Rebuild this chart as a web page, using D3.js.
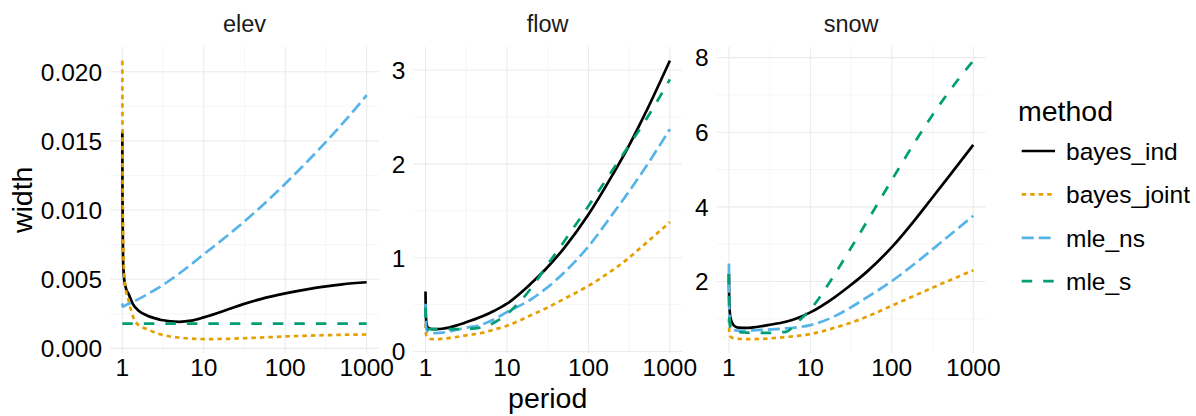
<!DOCTYPE html>
<html>
<head>
<meta charset="utf-8">
<script src="https://cdn.jsdelivr.net/npm/d3@7"></script>
<style>
  html, body { margin: 0; padding: 0; background: #fff; }
  svg { display: block; font-family: "Liberation Sans", Arial, sans-serif; }
  .grid-major { stroke: #ebebeb; stroke-width: 1.1; }
  .grid-minor { stroke: #f2f2f2; stroke-width: 0.7; }
  .tick-label { font-size: 24.5px; fill: #000; }
  .strip-label { font-size: 23.5px; fill: #1a1a1a; }
  .axis-title { font-size: 28.5px; fill: #000; }
</style>
</head>
<body>
<div id="chart"></div>
<script>
// return periods shared by every series
const periods = [1, 1.005, 1.015, 1.03, 1.06, 1.1, 1.2, 1.35, 1.6, 2, 2.5, 3, 5, 7, 10, 20, 30, 50, 100, 200, 300, 500, 1000];

const panels = ["elev", "flow", "snow"];
const methods = ["bayes_ind", "bayes_joint", "mle_ns", "mle_s"];

const xTicks = [1, 10, 100, 1000];
const elevTicks = [0, 0.005, 0.01, 0.015, 0.02];
const flowTicks = [0, 1, 2, 3];
const snowTicks = [2, 4, 6, 8];

// elev
const elevBayesInd = [0.0157, 0.0110, 0.0078, 0.0058, 0.0049, 0.0044, 0.0039, 0.0032, 0.0027, 0.00238, 0.00218, 0.00205, 0.00192, 0.00200, 0.00224, 0.00282, 0.00318, 0.00356, 0.00397, 0.00430, 0.00446, 0.00463, 0.00478];
const elevBayesJoint = [0.0208, 0.0150, 0.0100, 0.0070, 0.0052, 0.0043, 0.0034, 0.0023, 0.00165, 0.0014, 0.00115, 0.00100, 0.00078, 0.00071, 0.00067, 0.00069, 0.00073, 0.00078, 0.00086, 0.00092, 0.00095, 0.00098, 0.00100];
const elevMleNs = [0.00325, 0.00310, 0.00302, 0.00302, 0.00306, 0.00312, 0.00322, 0.00336, 0.00358, 0.00389, 0.00422, 0.00450, 0.00541, 0.00607, 0.0068, 0.0082, 0.00907, 0.01022, 0.0119, 0.01369, 0.01478, 0.01622, 0.0183];
const elevMleS = [0.00178, 0.00178, 0.00178, 0.00178, 0.00178, 0.00178, 0.00178, 0.00178, 0.00178, 0.00178, 0.00178, 0.00178, 0.00178, 0.00178, 0.00178, 0.00178, 0.00178, 0.00178, 0.00178, 0.00178, 0.00178, 0.00178, 0.00178];

// flow
const flowBayesInd = [0.64, 0.45, 0.35, 0.29, 0.26, 0.25, 0.24, 0.238, 0.243, 0.258, 0.283, 0.305, 0.375, 0.435, 0.51, 0.73, 0.88, 1.10, 1.46, 1.89, 2.16, 2.54, 3.10];
const flowBayesJoint = [0.30, 0.22, 0.18, 0.16, 0.145, 0.138, 0.133, 0.133, 0.137, 0.146, 0.158, 0.17, 0.20, 0.235, 0.275, 0.39, 0.46, 0.56, 0.70, 0.87, 0.985, 1.15, 1.38];
const flowMleNs = [0.51, 0.35, 0.27, 0.235, 0.215, 0.205, 0.198, 0.197, 0.202, 0.215, 0.235, 0.25, 0.29, 0.345, 0.42, 0.56, 0.67, 0.84, 1.12, 1.47, 1.68, 1.96, 2.37];
const flowMleS = [0.47, 0.33, 0.27, 0.25, 0.242, 0.24, 0.24, 0.24, 0.24, 0.24, 0.24, 0.24, 0.26, 0.31, 0.40, 0.68, 0.90, 1.17, 1.55, 1.94, 2.17, 2.46, 2.90];

// snow
const snowBayesInd = [2.2, 1.7, 1.35, 1.12, 0.97, 0.88, 0.79, 0.76, 0.755, 0.77, 0.80, 0.83, 0.92, 1.02, 1.17, 1.58, 1.87, 2.27, 2.92, 3.70, 4.19, 4.81, 5.66];
const snowBayesJoint = [1.0, 0.75, 0.62, 0.55, 0.51, 0.49, 0.47, 0.46, 0.455, 0.455, 0.46, 0.47, 0.51, 0.54, 0.59, 0.76, 0.88, 1.06, 1.35, 1.64, 1.81, 2.02, 2.30];
const snowMleNs = [2.48, 1.6, 1.1, 0.9, 0.78, 0.72, 0.69, 0.68, 0.685, 0.69, 0.70, 0.71, 0.74, 0.77, 0.83, 1.07, 1.28, 1.58, 2.01, 2.51, 2.82, 3.22, 3.76];
const snowMleS = [2.2, 1.4, 1.0, 0.82, 0.72, 0.68, 0.65, 0.64, 0.63, 0.62, 0.62, 0.62, 0.65, 0.92, 1.25, 2.2, 2.82, 3.62, 4.72, 5.80, 6.39, 7.08, 7.92];

const seriesByPanel = {
  elev: [elevBayesInd, elevBayesJoint, elevMleNs, elevMleS],
  flow: [flowBayesInd, flowBayesJoint, flowMleNs, flowMleS],
  snow: [snowBayesInd, snowBayesJoint, snowMleNs, snowMleS],
};
const ticksByPanel = { elev: elevTicks, flow: flowTicks, snow: snowTicks };

const colors = { bayes_ind: "#000000", bayes_joint: "#E69F00", mle_ns: "#56B4E9", mle_s: "#009E73" };
const dashes = { bayes_ind: null, bayes_joint: "4.5,4", mle_ns: "12,5", mle_s: "10.5,11" };
const lineWidth = 2.7;

const width = 1196;
const height = 416;
const panelTop = 46.7;
const panelBottom = 353;
const panelLefts = [110.1, 413.3, 716.7];
const panelWidth = 268.8;

const svg = d3.select("#chart")
  .append("svg")
  .attr("width", width)
  .attr("height", height);

// ggplot-style 5% expansion on a log axis
const logLo = 0, logHi = 3;
const logPad = (logHi - logLo) * 0.05;

panels.forEach((panel, i) => {
  const left = panelLefts[i];
  const g = svg.append("g").attr("transform", `translate(${left},0)`);

  const x = d3.scaleLog()
    .domain([Math.pow(10, logLo - logPad), Math.pow(10, logHi + logPad)])
    .range([0, panelWidth]);

  const allVals = seriesByPanel[panel].flat();
  const lo = d3.min(allVals), hi = d3.max(allVals);
  const pad = (hi - lo) * 0.05;
  const y = d3.scaleLinear()
    .domain([lo - pad, hi + pad])
    .range([panelBottom, panelTop]);

  const ticks = ticksByPanel[panel];
  const step = ticks[1] - ticks[0];
  const minorY = [ticks[0] - step / 2].concat(ticks.map((t) => t + step / 2))
    .filter((v) => v >= y.domain()[0] && v <= y.domain()[1]);
  const minorX = [0.5, 1.5, 2.5].map((e) => Math.pow(10, e));

  // minor grid
  g.selectAll(".gy-minor").data(minorY).join("line")
    .attr("class", "grid-minor")
    .attr("x1", 0).attr("x2", panelWidth)
    .attr("y1", (d) => y(d)).attr("y2", (d) => y(d));
  g.selectAll(".gx-minor").data(minorX).join("line")
    .attr("class", "grid-minor")
    .attr("x1", (d) => x(d)).attr("x2", (d) => x(d))
    .attr("y1", panelTop).attr("y2", panelBottom);

  // major grid
  g.selectAll(".gy").data(ticks).join("line")
    .attr("class", "grid-major")
    .attr("x1", 0).attr("x2", panelWidth)
    .attr("y1", (d) => y(d)).attr("y2", (d) => y(d));
  g.selectAll(".gx").data(xTicks).join("line")
    .attr("class", "grid-major")
    .attr("x1", (d) => x(d)).attr("x2", (d) => x(d))
    .attr("y1", panelTop).attr("y2", panelBottom);

  // tick labels
  const yFmt = panel === "elev" ? d3.format(".3f") : d3.format("d");
  g.selectAll(".ylab").data(ticks).join("text")
    .attr("class", "tick-label")
    .attr("x", -8)
    .attr("y", (d) => y(d))
    .attr("dy", "0.36em")
    .attr("text-anchor", "end")
    .text((d) => yFmt(d));
  g.selectAll(".xlab").data(xTicks).join("text")
    .attr("class", "tick-label")
    .attr("x", (d) => x(d))
    .attr("y", 376)
    .attr("text-anchor", "middle")
    .text((d) => d3.format("d")(d));

  // strip
  g.append("text")
    .attr("class", "strip-label")
    .attr("x", panelWidth / 2)
    .attr("y", 31.5)
    .attr("text-anchor", "middle")
    .text(panel);

  const line = d3.line()
    .curve(d3.curveMonotoneX)
    .x((d) => x(d[0]))
    .y((d) => y(d[1]));

  methods.forEach((m, j) => {
    const vals = seriesByPanel[panel][j];
    g.append("path")
      .datum(periods.map((p, k) => [p, vals[k]]))
      .attr("fill", "none")
      .attr("stroke", colors[m])
      .attr("stroke-width", lineWidth)
      .attr("stroke-dasharray", dashes[m])
      .attr("d", line);
  });
});

// axis titles
svg.append("text")
  .attr("class", "axis-title")
  .attr("x", panelLefts[1] + panelWidth / 2)
  .attr("y", 408)
  .attr("text-anchor", "middle")
  .text("period");

svg.append("text")
  .attr("class", "axis-title")
  .attr("transform", `translate(31.5,${(panelTop + panelBottom) / 2}) rotate(-90)`)
  .attr("text-anchor", "middle")
  .text("width");

// legend
const legend = svg.append("g").attr("transform", "translate(1018,0)");
legend.append("text")
  .attr("class", "axis-title")
  .attr("x", 0)
  .attr("y", 121)
  .text("method");

methods.forEach((m, j) => {
  const cy = 151 + j * 43.4;
  legend.append("line")
    .attr("x1", 3.7).attr("x2", 37)
    .attr("y1", cy).attr("y2", cy)
    .attr("stroke", colors[m])
    .attr("stroke-width", lineWidth)
    .attr("stroke-dasharray", dashes[m]);
  legend.append("text")
    .attr("class", "tick-label")
    .attr("x", 48)
    .attr("y", cy)
    .attr("dy", "0.36em")
    .text(m);
});
</script>
</body>
</html>
